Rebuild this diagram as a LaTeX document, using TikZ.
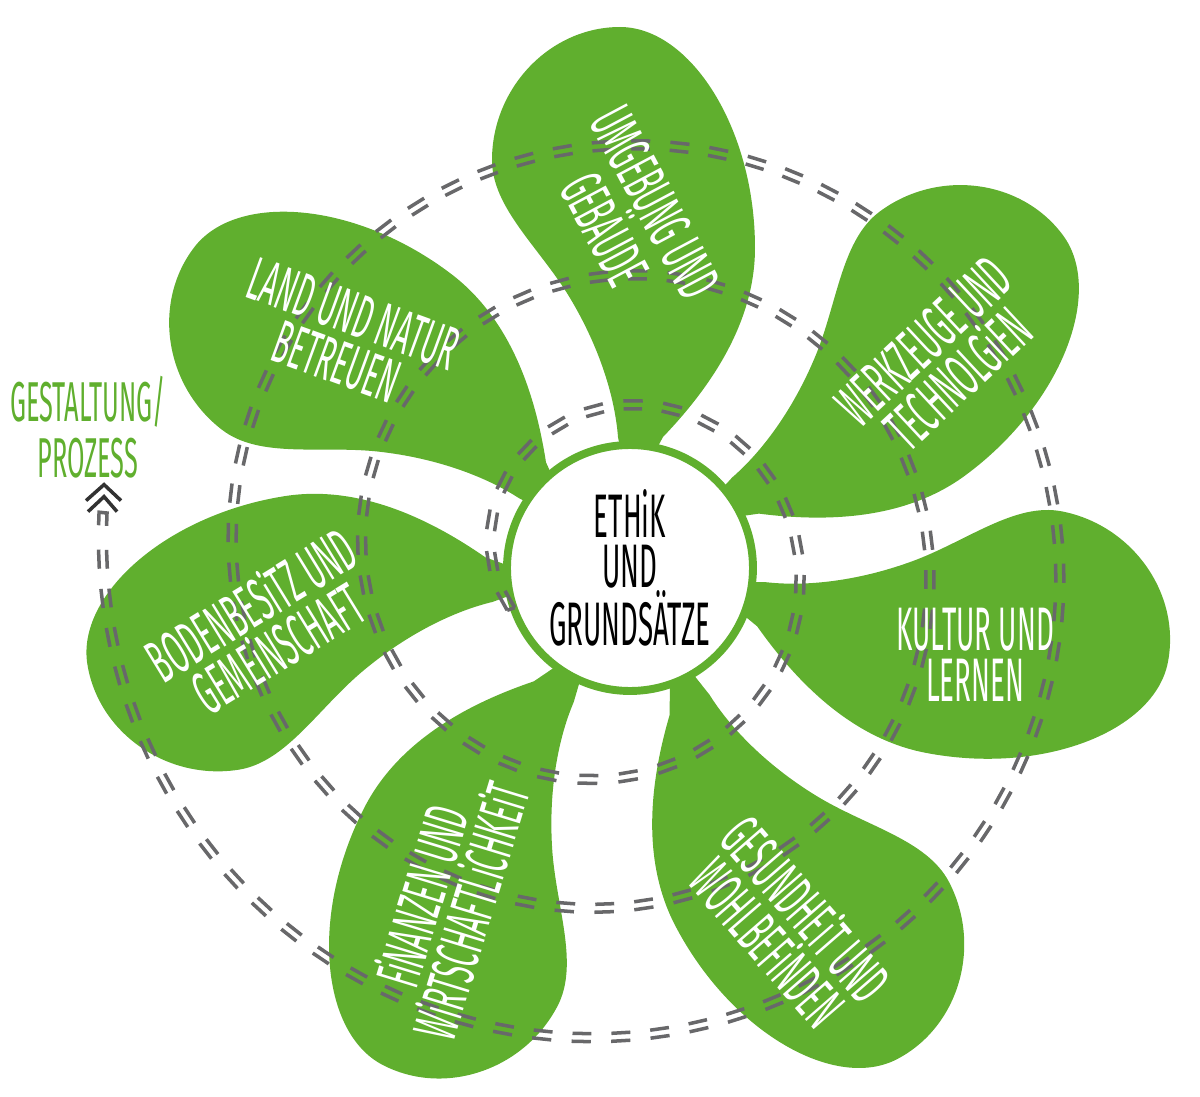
\documentclass[tikz,border=0pt]{standalone}
\usepackage{fontspec}
\newfontfamily\handfont[FakeStretch=0.45]{Fira Sans}
\definecolor{leafgreen}{RGB}{96,175,46}
\definecolor{dashgray}{RGB}{104,104,106}
\definecolor{chevgray}{RGB}{50,50,50}
\tikzset{
petal/.pic={
  \fill[leafgreen] (33,131) .. controls (80,180) and (125,245) .. (125,320)
    .. controls (125,440) and (60,541) .. (-10,541)
    .. controls (-80,541) and (-138,480) .. (-138,408)
    .. controls (-138,360) and (-90,320) .. (-60,270)
    .. controls (-30,220) and (-15,170) .. (-12,131) -- (0,70) -- cycle;
}
}
\begin{document}
\begin{tikzpicture}[x=0.02cm,y=0.02cm,
declare function={sr(\t)=114+0.361*\t-16*cos(199-\t)+10*sin(199-\t);
  sx(\t,\d)=(sr(\t)+\d)*cos(199-\t); sy(\t,\d)=(sr(\t)+\d)*sin(199-\t);},
leaf/.style ={text=white, align=center, inner sep=0pt,
  font=\handfont\fontsize{35}{29}\selectfont
},
core/.style ={circle, draw=leafgreen, line width=4.5pt, fill=white,
  minimum size=4.92cm, align=center, inner sep=0pt,
  font=\handfont\fontsize{35}{28.5}\selectfont
},
flow/.style ={text=leafgreen, align=center, inner sep=0pt,
  font=\handfont\fontsize{32}{32}\selectfont
},
pair/.style ={draw=dashgray, line width=2pt},
chev/.style ={draw=chevgray, line width=2pt}]
\useasboundingbox (-630,-528) rectangle (570,568);
\foreach \r/\s in {0/0, -53.5/5, -101/5, -152.5/18, -207.5/14, -261/10, 52.6/0}
  \pic[rotate=\r, shift={(0,\s)}] at (0,0) {petal};
\node (ethik) at (0,0) [core] {ETHiK\\UND\\GRUNDSÄTZE};
\gdef\tcur{0}
\foreach \i in {1,...,170}{
  \pgfmathsetmacro\tmid{\tcur+1088.6/sr(\tcur)}
  \pgfmathsetmacro\tnext{\tcur+2234.6/sr(\tcur)}
  \ifdim\tmid pt<1104pt
    \draw[pair] ({sx(\tcur,4)},{sy(\tcur,4)}) -- ({sx(\tmid,4)},{sy(\tmid,4)})
      ({sx(\tcur,-4)},{sy(\tcur,-4)}) -- ({sx(\tmid,-4)},{sy(\tmid,-4)});
  \fi
  \global\let\tcur\tnext
}
\coordinate (spiral end) at ({sx(1105,0)},{sy(1105,0)});
\draw[pair] ({sx(0,4)},{sy(0,4)}) -- ({sx(0,-4)},{sy(0,-4)});
\draw[pair] ({sx(1103.6,4)},{sy(1103.6,4)}) -- ({sx(1105,4)},{sy(1105,4)})
  -- ({sx(1105,-4)},{sy(1105,-4)}) -- ({sx(1103.6,-4)},{sy(1103.6,-4)});
\draw[chev] ([shift={(-17,12)}]spiral end) -- ([shift={(1,28)}]spiral end) -- ([shift={(18,12)}]spiral end);
\draw[chev] ([shift={(-15,1)}]spiral end) -- ([shift={(1,16)}]spiral end) -- ([shift={(14,1)}]spiral end);
\node (umgebung) at (0,352) [leaf, rotate=-62] {UMGEBUNG UND\\GEBÄUDE};
\node (werkzeuge) at (311,208) [leaf, rotate=43] {WERKZEUGE UND\\TECHNOLGiEN};
\node (kultur) at (345,-87) [leaf] {KULTUR UND\\LERNEN};
\node (gesundheit) at (158,-357) [leaf, rotate=-49] {GESUNDHEiT UND\\WOHLBEFiNDEN};
\node (finanzen) at (-185,-335) [leaf, rotate=73] {FiNANZEN UND\\WiRTSCHAFTLiCHKEiT};
\node (boden) at (-366,-57) [leaf, rotate=31.5] {BODENBESiTZ UND\\GEMEiNSCHAFT};
\node (land) at (-285,230) [leaf, rotate=-20] {LAND UND NATUR\\BETREUEN};
\node (prozess) at (-542,141) [flow] {GESTALTUNG/\\PROZESS};
\end{tikzpicture}
\end{document}
